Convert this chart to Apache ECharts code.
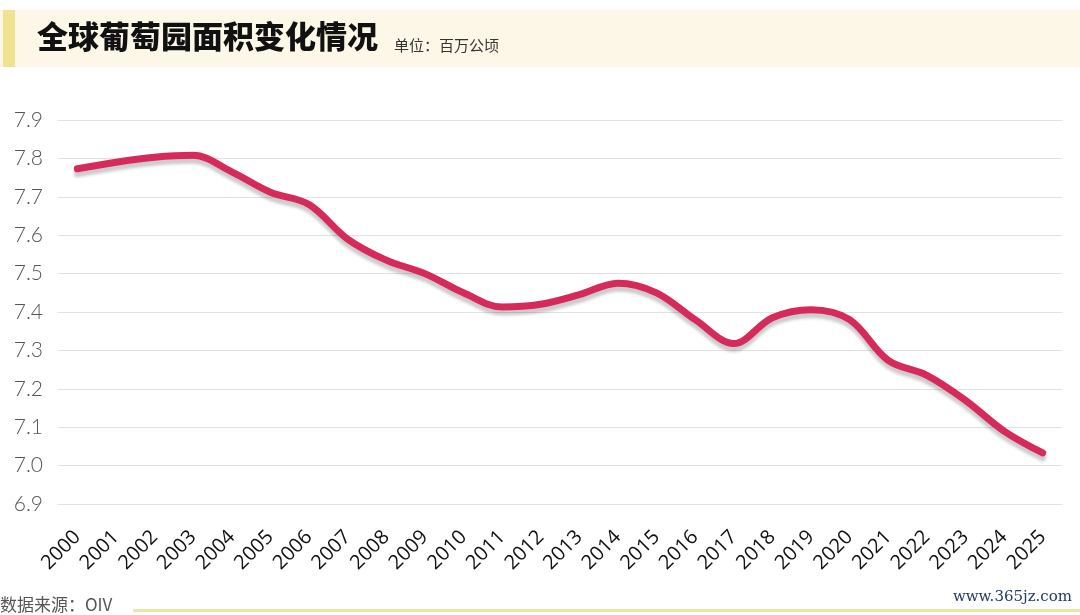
<!DOCTYPE html>
<html>
<head>
<meta charset="utf-8">
<script src="https://cdn.jsdelivr.net/npm/echarts@6/dist/echarts.min.js"></script>
<style>
html,body{margin:0;padding:0;background:#fff;}
#c{width:1080px;height:615px;}
</style>
</head>
<body>
<div id="c"></div>
<script>
var years = ['2000','2001','2002','2003','2004','2005','2006','2007','2008','2009','2010','2011','2012','2013','2014','2015','2016','2017','2018','2019','2020','2021','2022','2023','2024','2025'];
var area = [7.773,7.79,7.803,7.808,7.765,7.712,7.68,7.59,7.535,7.50,7.45,7.413,7.42,7.445,7.475,7.45,7.38,7.318,7.385,7.406,7.38,7.274,7.235,7.17,7.09,7.033];
var titleText = '全球葡萄园面积变化情况';
var unitText = '单位：百万公顷';
var sourceText = '数据来源：OIV';
var siteText = 'www.365jz.com';

var chart = echarts.init(document.getElementById('c'));
chart.setOption({
  backgroundColor: '#ffffff',
  animation: false,
  grid: {left: 58, right: 18, top: 120, bottom: 111, containLabel: false},
  graphic: [
    {type: 'rect', shape: {x: 0, y: 10, width: 1080, height: 57}, style: {fill: '#fcf7e7'}, z: -1},
    {type: 'rect', shape: {x: 3, y: 10, width: 12, height: 57}, style: {fill: '#efe291'}, z: 0},
    {type: 'text', left: 37, top: 21, style: {text: titleText, font: '900 31px "Noto Sans CJK SC"', fill: '#111111'}},
    {type: 'text', left: 394, top: 38, style: {text: unitText, font: '15px "Noto Sans CJK SC"', fill: '#333333'}},
    {type: 'text', left: 0, top: 596, style: {text: sourceText, font: '17px "Noto Sans CJK SC"', fill: '#555555'}},
    {type: 'rect', shape: {x: 133, y: 609, width: 947, height: 3}, style: {fill: '#e9e7a6'}},
    {type: 'text', right: 8, top: 590, style: {text: siteText, font: '15px "DejaVu Serif"', fill: '#1f3a6e'}}
  ],
  xAxis: {
    type: 'category',
    data: years,
    boundaryGap: true,
    axisLine: {show: false},
    axisTick: {show: false},
    axisLabel: {rotate: 45, fontSize: 20, color: '#111111', margin: 30, fontFamily: 'Open Sans', interval: 0}
  },
  yAxis: {
    type: 'value',
    min: 6.9,
    max: 7.9,
    interval: 0.1,
    axisLine: {show: false},
    axisTick: {show: false},
    axisLabel: {fontSize: 21, color: '#555555', margin: 15, fontFamily: 'Lato', fontWeight: 300,
      formatter: function (v) { return v.toFixed(1); }},
    splitLine: {lineStyle: {color: '#e2e2e2', width: 1}}
  },
  series: [{
    type: 'line',
    data: area,
    smooth: 0.35,
    symbol: 'none',
    lineStyle: {color: '#d52a5a', width: 7, cap: 'round',
      shadowColor: 'rgba(0,0,0,0.2)', shadowBlur: 3, shadowOffsetY: 5}
  }]
});
</script>
</body>
</html>
